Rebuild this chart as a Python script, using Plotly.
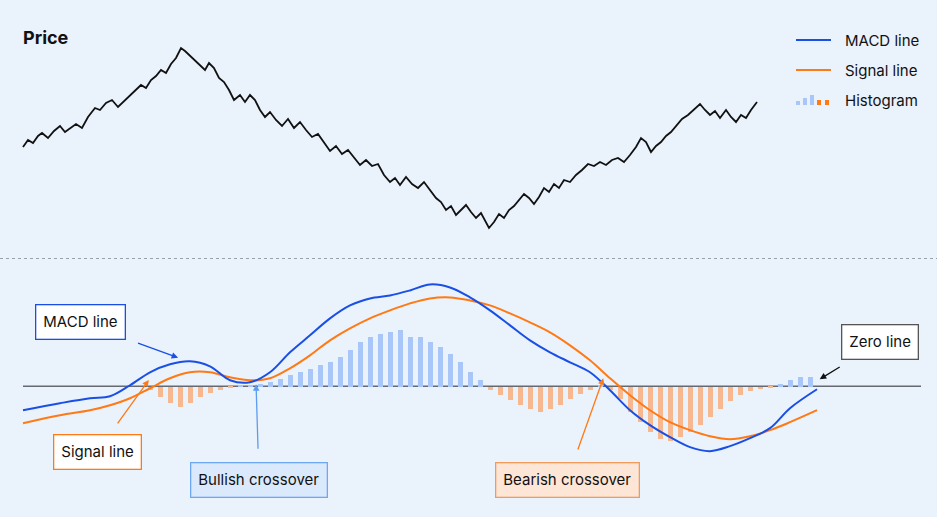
import plotly.graph_objects as go

# ── Data ─────────────────────────────────────────────────────
price_x = [23, 28, 33, 38, 42, 48, 54, 60, 65, 70, 76, 82, 88, 95, 100, 106, 112, 118, 124, 130,
           136, 141, 146, 151, 156, 161, 166, 171, 176, 181, 185, 190, 195, 200, 205, 209, 214, 219,
           224, 229, 234, 240, 245, 250, 255, 260, 265, 270, 276, 282, 288, 294, 300, 306, 312, 318,
           324, 330, 336, 342, 348, 354, 360, 366, 372, 378, 384, 390, 395, 400, 406, 412, 418, 424,
           430, 436, 441, 446, 451, 456, 461, 466, 471, 476, 481, 486, 489, 494, 499, 504, 509, 514,
           519, 524, 529, 534, 539, 544, 549, 554, 559, 564, 570, 576, 582, 588, 594, 600, 606, 612,
           618, 624, 630, 636, 641, 646, 651, 656, 661, 666, 671, 676, 682, 688, 694, 700, 705, 710,
           715, 720, 726, 731, 736, 741, 746, 751, 757]
price_y = [103, 110, 107, 114, 117, 112, 119, 124, 118, 122, 126, 122, 133, 142, 140, 147, 150, 143,
           149, 155, 160, 165, 162, 170, 174, 180, 177, 186, 192, 202, 199, 194, 190, 185, 180, 187,
           182, 172, 168, 160, 150, 155, 148, 155, 150, 140, 133, 138, 130, 124, 131, 122, 128, 120,
           113, 116, 108, 99, 104, 96, 100, 93, 85, 90, 84, 86, 75, 68, 72, 65, 73, 66, 62, 68, 60,
           52, 48, 40, 44, 35, 40, 45, 38, 32, 37, 27, 22, 28, 36, 32, 40, 44, 50, 56, 52, 46, 53,
           62, 58, 66, 62, 70, 68, 75, 80, 86, 84, 88, 85, 90, 92, 88, 95, 103, 112, 108, 98, 104,
           108, 114, 118, 124, 131, 135, 141, 146, 140, 135, 139, 132, 140, 133, 128, 135, 132, 140, 148]

macd_x = [23, 60, 90, 110, 130, 150, 170, 190, 210, 230, 250, 270, 290, 310, 330, 350, 370, 390, 410,
          430, 450, 470, 490, 510, 530, 550, 570, 590, 610, 630, 650, 670, 690, 710, 730, 750, 770, 790, 817]
macd = [-24, -17, -12, -10, 1, 14, 22, 25, 20, 6, 4, 14, 34, 51, 68, 81, 88, 91, 96,
        102, 99, 89, 76, 61, 46, 34, 24, 14, -4, -24, -39, -51, -61, -65, -60, -52, -42, -22, -3]
signal = [-37, -29, -24, -19, -12, -2, 8, 14, 14, 9, 6, 8, 18, 31, 46, 58, 68, 76, 83,
          88, 89, 86, 81, 73, 64, 54, 41, 26, 8, -9, -24, -36, -44, -50, -53, -50, -44, -36, -24]

hist_x = list(range(150, 820, 10))
hist = [-3, -10, -16, -20, -16, -10, -6, -3, -1, 1, 2, 3, 5, 8, 12, 15, 18, 22, 25, 30,
        37, 45, 50, 53, 55, 57, 50, 50, 45, 40, 33, 25, 15, 7, -3, -8, -13, -18, -22, -25,
        -22, -18, -12, -7, -3, 2, -3, -12, -25, -35, -45, -52, -54, -50, -45, -38, -30, -22,
        -14, -8, -4, -2, -1, 3, 7, 10, 10]

BLUE = '#1a4fe6'
ORANGE = '#ff7a14'
HIST_BLUE = '#a9c6f8'
HIST_ORANGE = '#f8b88f'
BG = '#eaf2fc'
FONT = 'Inter'

fig = go.Figure()

fig.add_trace(go.Scatter(x=price_x, y=price_y, mode='lines',
                         line=dict(color='#111111', width=1.8), yaxis='y'))

fig.add_trace(go.Bar(x=hist_x, y=hist, width=5, yaxis='y2',
                     marker_color=[HIST_BLUE if v >= 0 else HIST_ORANGE for v in hist],
                     marker_line_width=0))

fig.add_trace(go.Scatter(x=macd_x, y=signal, mode='lines', line_shape='spline',
                         line=dict(color=ORANGE, width=2), yaxis='y2'))
fig.add_trace(go.Scatter(x=macd_x, y=macd, mode='lines', line_shape='spline',
                         line=dict(color=BLUE, width=2), yaxis='y2'))

# zero line and separator
fig.add_shape(type='line', x0=23, x1=921, y0=0, y1=0, xref='x', yref='y2',
              line=dict(color='#666a70', width=1.3), layer='below')
fig.add_shape(type='line', x0=0, x1=1, y0=0.5, y1=0.5, xref='paper', yref='paper',
              line=dict(color='#9aa0a8', width=1.2, dash='dot'))

# ── Callouts ─────────────────────────────────────────────────
def callout(text, bx, by, tx, ty, border, bg, arrow):
    fig.add_annotation(x=tx, y=ty, ax=bx, ay=by, xref='x', yref='y2', axref='x', ayref='y2',
                       text=text, showarrow=True, arrowhead=2, arrowsize=1, arrowwidth=1.3,
                       arrowcolor=arrow, standoff=2, startstandoff=14,
                       font=dict(size=15, color='#111111', family=FONT),
                       bgcolor=bg, bordercolor=border, borderwidth=1.3, borderpad=7)

callout('MACD line', 80, 64, 180, 28, BLUE, 'white', BLUE)
callout('Signal line', 97, -66, 150, 8, ORANGE, 'white', ORANGE)
callout('Bullish crossover', 259, -94, 256, 4, '#6fa8f2', '#dbe9fc', '#5b9cf0')
callout('Bearish crossover', 567, -94, 604, 10, '#f39a5a', '#fde6d6', ORANGE)
callout('Zero line', 880, 44, 818, 6, '#555555', 'white', '#111111')

fig.add_annotation(x=21, y=250 - 37, xref='x', yref='y', text='<b>Price</b>', showarrow=False,
                   xanchor='left', yanchor='middle',
                   font=dict(size=18, color='#111111', family=FONT))

# ── Manual legend ────────────────────────────────────────────
leg = [('MACD line', 40), ('Signal line', 70), ('Histogram', 100)]
for label, py in leg:
    fig.add_annotation(x=843, y=250 - py, xref='x', yref='y', text=label, showarrow=False,
                       xanchor='left', font=dict(size=15, color='#111111', family=FONT))
fig.add_shape(type='line', x0=796, x1=831, y0=210, y1=210, xref='x', yref='y',
              line=dict(color=BLUE, width=2))
fig.add_shape(type='line', x0=796, x1=831, y0=180, y1=180, xref='x', yref='y',
              line=dict(color=ORANGE, width=2))
for x0, h, c in [(796, 4, HIST_BLUE), (803, 7, HIST_BLUE), (810, 10, HIST_BLUE),
                 (817, 5, ORANGE), (825, 5, ORANGE)]:
    fig.add_shape(type='rect', x0=x0, x1=x0 + 4, y0=145, y1=145 + h, xref='x', yref='y',
                  fillcolor=c, line_width=0)

fig.update_layout(
    width=937, height=517,
    margin=dict(l=0, r=0, t=0, b=0),
    paper_bgcolor=BG, plot_bgcolor=BG,
    showlegend=False, bargap=0,
    xaxis=dict(range=[0, 937], visible=False, fixedrange=True),
    yaxis=dict(domain=[0.5, 1], range=[-8.5, 250], visible=False),
    yaxis2=dict(domain=[0, 0.5], range=[-131, 128], visible=False),
)

fig.write_html("out.html", config={'displayModeBar': False},
               post_script="document.body.style.margin='0';"
                           "document.body.style.overflow='hidden';"
                           "document.body.style.background='#eaf2fc';")
